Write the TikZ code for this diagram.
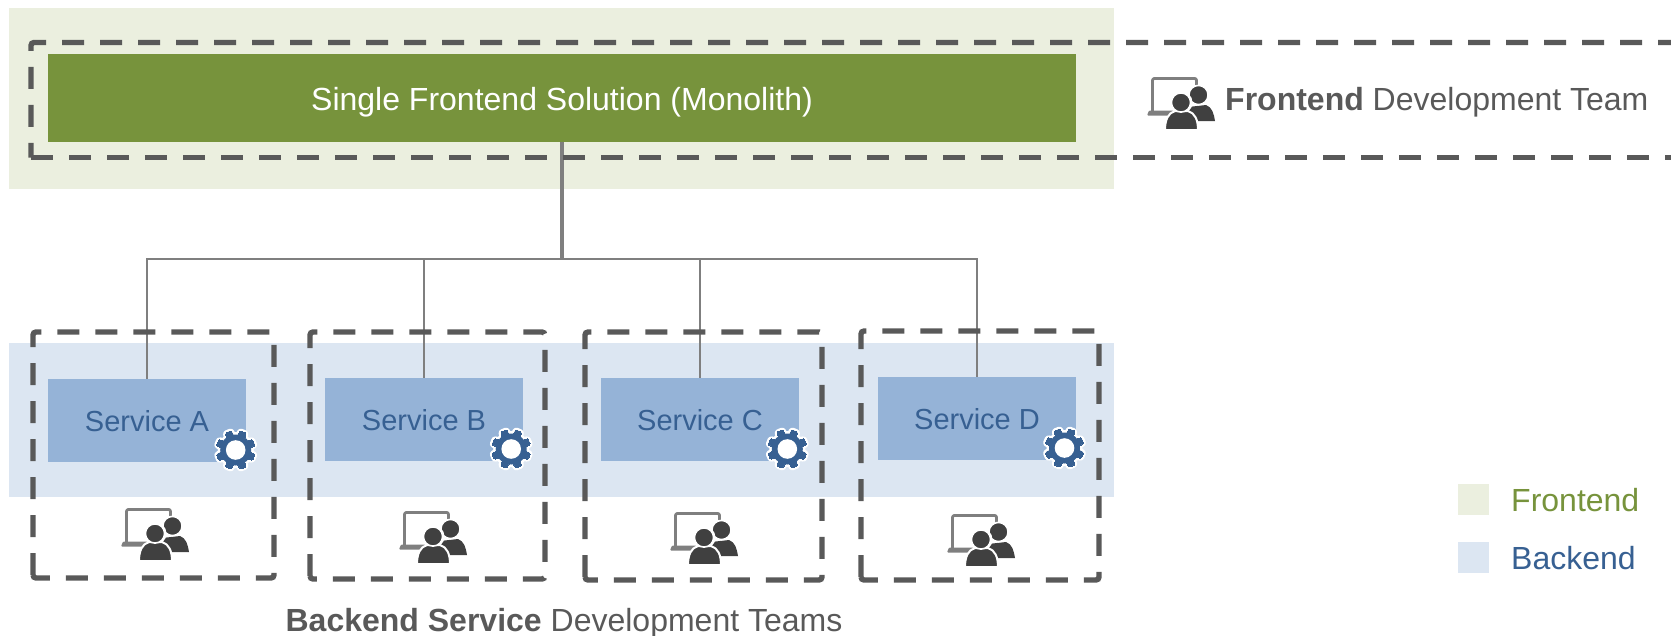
\documentclass[tikz,border=0pt]{standalone}
\usepackage{fontspec}
\setmainfont{Liberation Sans}
\definecolor{feband}{HTML}{EBEFDF}
\definecolor{beband}{HTML}{DCE6F2}
\definecolor{feblock}{HTML}{77933C}
\definecolor{beblock}{HTML}{95B3D7}
\definecolor{betext}{HTML}{376092}
\definecolor{dashgray}{HTML}{595959}
\definecolor{linkgray}{HTML}{7F7F7F}
\definecolor{persondark}{HTML}{404040}
\tikzset{
  band/.style={fill=#1,draw=none},
  teambox/.style={draw=dashgray,line width=5.4pt,dash pattern=on 22pt off 16pt,rounded corners=3pt},
  fepath/.style={draw=dashgray,line width=5.4pt,dash pattern=on 22pt off 16pt},
  link/.style={draw=linkgray,line width=2.8pt},
  svc/.style={fill=beblock,draw=none,minimum width=198pt,minimum height=83pt,inner sep=0pt,text=betext,font=\fontsize{29}{34}\selectfont,text height=25pt,text depth=3pt},
  mono/.style={fill=feblock,draw=none,minimum width=1028pt,minimum height=88pt,inner sep=0pt,text=white,font=\fontsize{32}{38}\selectfont,text height=25pt,text depth=0pt},
  caption/.style={text=dashgray,inner sep=0pt,font=\fontsize{32}{38}\selectfont},
  legendbox/.style={draw=none,minimum size=31pt,inner sep=0pt,fill=#1},
  legendtext/.style={inner sep=0pt,anchor=west,font=\fontsize{32}{38}\selectfont,text=#1},
  gear/.pic={
    \foreach \w/\c in {5/white,0/betext}{
      \foreach \a in {22.5,67.5,...,337.5}{
        \draw[draw=\c,fill=\c,line width=\w pt,line join=round,rotate=\a,rounded corners=1pt]
          (-4,-12) -- (-3.2,-19.5) -- (3.2,-19.5) -- (4,-12) -- cycle;
      }
      \fill[\c] (0,0) circle[radius=15.5+\w/2];
    }
    \fill[white] (0,0) circle[radius=9.8];
  },
  team/.pic={
    \draw[draw=linkgray,line width=2.8pt,line join=round,rounded corners=2pt] (5.5,37) -- (5.5,1.4) -- (49.5,1.4) -- (49.5,20);
    \fill[linkgray,rounded corners=1pt] (0,38.5) -- (2,33.5) -- (28,33.5) -- (28,38.5) -- cycle;
    \path[fill=persondark] (41,44) -- (41,30) -- (59,28) .. controls (65,30) and (67,37) .. (68,44) -- cycle;
    \fill[persondark,draw=white,line width=1.6pt] (51.5,18) circle[radius=9.6];
    \fill[white] (34,25.5) circle[radius=11.5];
    \path[fill=persondark,draw=white,line width=2pt] (18,53) .. controls (18,43) and (21,36) .. (28,34) -- (41,34) .. controls (48,36) and (51,43) .. (51,53) -- cycle;
    \fill[persondark,draw=white,line width=1.6pt] (34,25.5) circle[radius=9.6];
  }
}
\begin{document}
\begin{tikzpicture}[x=1pt,y=-1pt]
\useasboundingbox (0,0) rectangle (1671,635);
% bands
\path[band=feband] (9,8) rectangle (1114,189);
\path[band=beband] (9,343) rectangle (1114,497);
% blocks
\node[mono] (monolith) at (562,98) {Single Frontend Solution (Monolith)};
\node[svc] (svcA) at (147,420.5) {Service A};
\node[svc] (svcB) at (424,419.5) {Service B};
\node[svc] (svcC) at (700,419.5) {Service C};
\node[svc] (svcD) at (977,418.5) {Service D};
% connectors
\coordinate (bus) at (562,259);
\draw[link,line width=3.2pt] (monolith.south) -- (bus);
\draw[link] (svcA.north) |- (bus);
\draw[link] (svcB.north) |- (bus);
\draw[link] (svcC.north) |- (bus);
\draw[link] (svcD.north) |- (bus);
% dashed team boxes
\draw[fepath,dash phase=9pt,rounded corners=3pt] (1671,42.5) -- (31,42.5) -- (31,157.5);
\draw[fepath] (31,157.5) -- (1671,157.5);
\draw[teambox] (33,578) rectangle (274,332);
\draw[teambox] (310,579) rectangle (545,332);
\draw[teambox] (585,580) rectangle (822,332);
\draw[teambox] (861,580) rectangle (1099,331);
% gears
\pic at (235.7,450) {gear};
\pic at (511.2,449) {gear};
\pic at (787.3,449) {gear};
\pic at (1064.5,448) {gear};
% team icons
\pic at (121,508) {team};
\pic at (399,511) {team};
\pic at (670,512) {team};
\pic at (947,514) {team};
\pic at (1147,77) {team};
% texts
\node[caption,anchor=west] (fecap) at (1225,102) {\textbf{Frontend} Development Team};
\node[caption] (becap) at (564,623) {\textbf{Backend Service} Development Teams};
% legend
\node[legendbox=feband] (legfe) at (1473.5,499.5) {};
\node[legendbox=beband] (legbe) at (1473.5,557.5) {};
\node[legendtext=feblock] (legfet) at (1511,500) {Frontend};
\node[legendtext=betext] (legbet) at (1511,558) {Backend};
\end{tikzpicture}
\end{document}
